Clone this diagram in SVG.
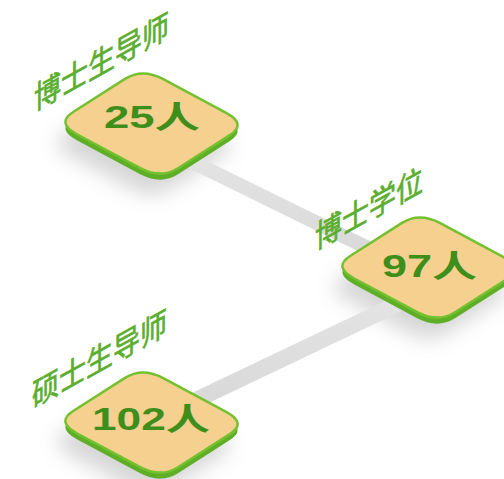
<svg xmlns="http://www.w3.org/2000/svg" width="504" height="479" viewBox="0 0 504 479">
<defs>
<style>
.face{fill:#F5D08F;stroke:#74C12F;stroke-width:2.5;stroke-linejoin:round}
.side{fill:#5EAE26}
.shadow{fill:#9a9a9a;opacity:0.4;filter:url(#blur)}
.num{font-family:"Liberation Sans","Noto Sans CJK SC",sans-serif;font-weight:bold;font-size:31px;fill:#3E8E1C}
.lbl{font-family:"Noto Sans CJK SC",sans-serif;font-size:27px;fill:#5BAE2E;stroke:#5BAE2E;stroke-width:0.6}
.band{fill:url(#bandgrad)}
</style>
<filter id="blur" x="-50%" y="-50%" width="200%" height="200%"><feGaussianBlur stdDeviation="10"/></filter>
<linearGradient id="bandgrad" x1="0" y1="0" x2="0" y2="1">
<stop offset="0" stop-color="#E6E6E6"/><stop offset="1" stop-color="#D6D6D6"/>
</linearGradient>
<path id="node" d="M10.18,-11.02 L62.02,-44.08 Q79.3,-55.1 100.26,-43.86 L163.14,-10.14 Q184.1,1.1 166.82,12.12 L114.98,45.18 Q97.7,56.2 76.74,44.96 L13.86,11.24 Q-7.1,0 10.18,-11.02 Z"/>
</defs>
<g id="shadows">
<use href="#node" class="shadow" transform="translate(55,144)"/>
<use href="#node" class="shadow" transform="translate(332,288)"/>
<use href="#node" class="shadow" transform="translate(55,443)"/>
</g>
<g id="connectors">
<polygon class="band" points="152,134 429,270 429,286 152,150"/>
<polygon class="band" points="152,412 429,280 429,298 152,430"/>
</g>
<g id="node-phd-supervisors">
<use href="#node" class="side" transform="translate(63,129)"/>
<use href="#node" class="face" transform="translate(63,123)"/>
<text class="num" x="104" y="128" textLength="96" lengthAdjust="spacingAndGlyphs">25人</text>
<text class="lbl" transform="translate(34,111) skewY(-29) scale(1,1.2)" x="0" y="0">博士生导师</text>
</g>
<g id="node-phd-degree">
<use href="#node" class="side" transform="translate(340,273)"/>
<use href="#node" class="face" transform="translate(340,267)"/>
<text class="num" x="382" y="277" textLength="95" lengthAdjust="spacingAndGlyphs">97人</text>
<text class="lbl" transform="translate(315,250) skewY(-29) scale(1,1.2)" x="0" y="0">博士学位</text>
</g>
<g id="node-master-supervisors">
<use href="#node" class="side" transform="translate(63,428)"/>
<use href="#node" class="face" transform="translate(63,422)"/>
<text class="num" x="92" y="430" textLength="118" lengthAdjust="spacingAndGlyphs">102人</text>
<text class="lbl" transform="translate(32,408) skewY(-29) scale(1,1.2)" x="0" y="0">硕士生导师</text>
</g>
</svg>
